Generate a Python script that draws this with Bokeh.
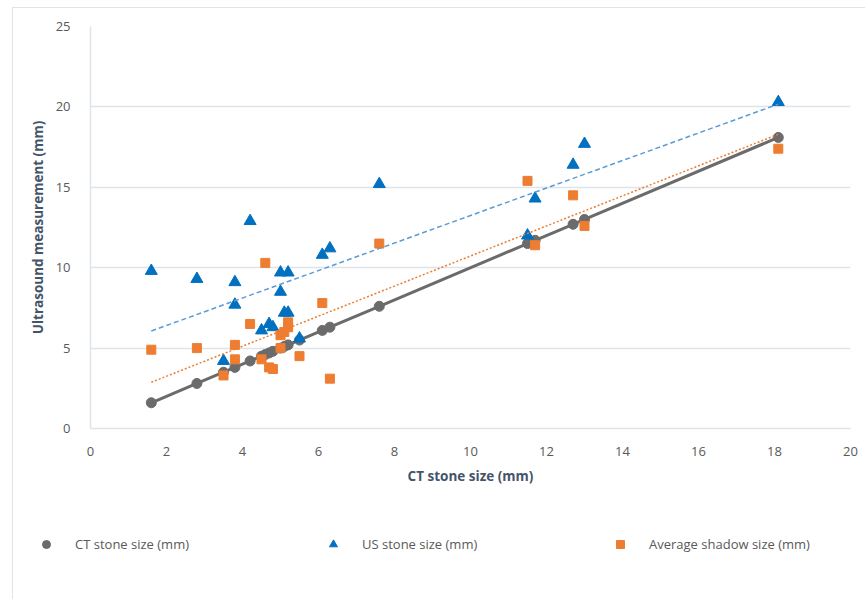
import numpy as np
from bokeh.plotting import figure
from bokeh.models import Legend, LegendItem, Range1d, FixedTicker
from bokeh.embed import file_html
from bokeh.resources import INLINE

# ---- data ----
ct_x = [1.6, 2.8, 3.5, 3.8, 4.2, 4.5, 4.6, 4.7, 4.8, 5.0, 5.1, 5.2, 5.5, 6.1, 6.3, 7.6, 11.5, 11.7, 12.7, 13.0, 18.1]
ct_y = [1.6, 2.8, 3.5, 3.8, 4.2, 4.5, 4.6, 4.7, 4.8, 5.0, 5.1, 5.2, 5.5, 6.1, 6.3, 7.6, 11.5, 11.7, 12.7, 13.0, 18.1]

us_x = [1.6, 2.8, 3.5, 3.8, 3.8, 4.2, 4.5, 4.7, 4.8, 5.0, 5.0, 5.1, 5.2, 5.2, 5.5, 6.1, 6.3, 7.6, 11.5, 11.7, 12.7, 13.0, 18.1]
us_y = [9.8, 9.3, 4.2, 9.1, 7.7, 12.9, 6.1, 6.5, 6.3, 9.7, 8.5, 7.2, 7.2, 9.7, 5.6, 10.8, 11.2, 15.2, 12.0, 14.3, 16.4, 17.7, 20.3]

sh_x = [1.6, 2.8, 3.5, 3.8, 3.8, 4.2, 4.5, 4.6, 4.7, 4.8, 5.0, 5.0, 5.1, 5.2, 5.2, 5.5, 6.1, 6.3, 7.6, 11.5, 11.7, 12.7, 13.0, 18.1]
sh_y = [4.9, 5.0, 3.3, 5.2, 4.3, 6.5, 4.3, 10.3, 3.8, 3.7, 5.0, 5.8, 6.0, 6.3, 6.6, 4.5, 7.8, 3.1, 11.5, 15.4, 11.4, 14.5, 12.6, 17.4]

x_ticks = [0, 2, 4, 6, 8, 10, 12, 14, 16, 18, 20]
y_ticks = [0, 5, 10, 15, 20, 25]

labels = ["CT stone size (mm)", "US stone size (mm)", "Average shadow size (mm)"]

FONT = "Open Sans"
TXT = "#595959"
GRAY = "#6b6b6b"
BLUE = "#0070C0"
BLUE_T = "#5B9BD5"
ORANGE = "#ED7D31"
LINE = "#dfe4eb"

p = figure(width=853, height=493, output_backend="svg", toolbar_location=None,
           x_range=Range1d(0, 20), y_range=Range1d(0, 25),
           min_border_left=77, min_border_right=16, min_border_top=18, min_border_bottom=73)
p.margin = (7, 0, 0, 12)
p.styles = {"border-top": "1px solid " + LINE, "border-left": "1px solid " + LINE}
p.outline_line_color = None
p.xaxis.ticker = FixedTicker(ticks=x_ticks)
p.yaxis.ticker = FixedTicker(ticks=y_ticks)
p.xgrid.grid_line_color = None
p.ygrid.grid_line_color = LINE
p.ygrid.grid_line_width = 1.5
for ax in (p.xaxis, p.yaxis):
    ax.major_tick_line_color = None
    ax.minor_tick_line_color = None
    ax.axis_line_color = LINE
    ax.axis_line_width = 1.5
    ax.major_label_text_font = FONT
    ax.major_label_text_font_size = "13px"
    ax.major_label_text_color = TXT
    ax.axis_label_text_font = FONT
    ax.axis_label_text_font_size = "13.5px"
    ax.axis_label_text_font_style = "bold"
    ax.axis_label_text_color = "#44546A"
p.xaxis.axis_label = "CT stone size (mm)"
p.yaxis.axis_label = "Ultrasound measurement (mm)"
p.xaxis.major_label_standoff = 12
p.yaxis.major_label_standoff = 14
p.xaxis.axis_label_standoff = 8
p.yaxis.axis_label_standoff = 6

def trend(xs, ys):
    m, b = np.polyfit(xs, ys, 1)
    xx = np.array([min(xs), max(xs)])
    return xx, m * xx + b

p.line(ct_x, ct_y, line_color=GRAY, line_width=3)
p.scatter(ct_x, ct_y, marker="circle", size=10, fill_color=GRAY, line_color=GRAY)
p.scatter(us_x, us_y, marker="triangle", size=12, fill_color=BLUE, line_color=BLUE)
p.scatter(sh_x, sh_y, marker="square", size=9, fill_color=ORANGE, line_color=ORANGE)

tx, ty = trend(us_x, us_y)
p.line(tx, ty, line_color=BLUE_T, line_width=1.5, line_dash="5 3")
tx, ty = trend(sh_x, sh_y)
p.line(tx, ty, line_color=ORANGE, line_width=1.5, line_dash="2 2")

# legend row (its own small figure; the proxy points sit outside its ranges)
lf = figure(width=853, height=99, output_backend="svg", toolbar_location=None,
            min_border=0, min_border_left=0, min_border_right=0, min_border_top=0,
            min_border_bottom=0, x_axis_location=None, y_axis_location=None,
            x_range=Range1d(100, 101), y_range=Range1d(100, 101))
lf.margin = (0, 0, 0, 12)
lf.styles = {"border-left": "1px solid " + LINE}
lf.grid.visible = False
lf.outline_line_color = None
l_ct = lf.scatter(x=ct_x[:1], y=ct_y[:1], marker="circle", size=8, fill_color=GRAY, line_color=GRAY)
l_us = lf.scatter(x=us_x[:1], y=us_y[:1], marker="triangle", size=8, fill_color=BLUE, line_color=BLUE)
l_sh = lf.scatter(x=sh_x[:1], y=sh_y[:1], marker="square", size=8, fill_color=ORANGE, line_color=ORANGE)

def add_leg(r, label, x, standoff):
    lg = Legend(items=[LegendItem(label=label, renderers=[r])], location=(x, 45),
                orientation="horizontal", padding=0, margin=0, border_line_color=None,
                background_fill_alpha=0, label_text_font=FONT, label_text_font_size="13px",
                label_text_color=TXT, glyph_width=20, glyph_height=20, label_standoff=standoff)
    lf.add_layout(lg, "center")

add_leg(l_ct, labels[0], 23, 19)
add_leg(l_us, labels[1], 310, 19)
add_leg(l_sh, labels[2], 597, 19)

open("out.html", "w").write(file_html([p, lf], INLINE))
